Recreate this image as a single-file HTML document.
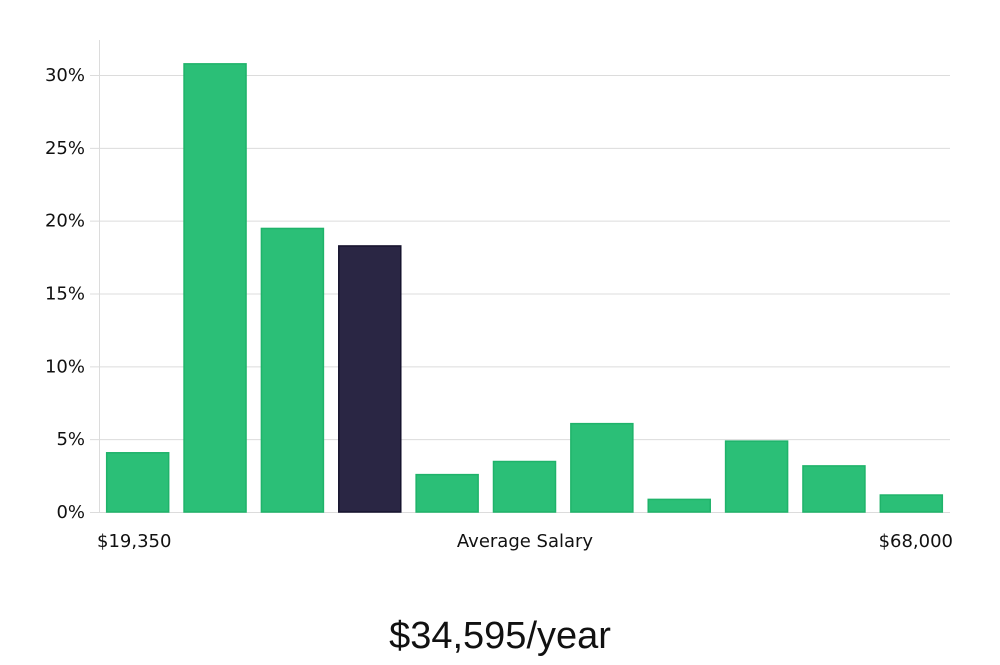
<!DOCTYPE html>
<html><head><meta charset="utf-8"><style>
body{margin:0;background:#fff;width:1000px;height:660px;overflow:hidden}
text{font-family:"DejaVu Sans","Liberation Sans",sans-serif}
</style></head><body>
<svg width="1000" height="660">
<g id="grid"></g><g id="bars"></g><g id="yt"></g>
<line x1="99.5" y1="40" x2="99.5" y2="512" stroke="#dcdcdc"/>
<text x="97" y="547" font-size="18" fill="#111">$19,350</text>
<text x="525" y="547" font-size="18" fill="#111" text-anchor="middle">Average Salary</text>
<text x="953" y="547" font-size="18" fill="#111" text-anchor="end">$68,000</text>
<text x="500" y="648" font-size="38" fill="#111" text-anchor="middle" style="font-family:'Liberation Sans',sans-serif;font-weight:300">$34,595/year</text>
</svg>
<script>
const values=[4.1,30.8,19.5,18.3,2.6,3.5,6.1,0.9,4.9,3.2,1.2];
const highlight=[false,false,false,true,false,false,false,false,false,false,false];
const ticks=[0,5,10,15,20,25,30];
const tickLabels=["0%","5%","10%","15%","20%","25%","30%"];
const NS="http://www.w3.org/2000/svg";
const y=v=>512-v*(437/30);
const x0=99,step=(950-99)/values.length,bw=63;
const mk=(t,a,p)=>{const e=document.createElementNS(NS,t);for(const k in a)e.setAttribute(k,a[k]);document.getElementById(p).appendChild(e);return e;};
ticks.forEach((t,i)=>{
 const g=mk('line',{x1:90,x2:950,y1:y(t)+0.5,y2:y(t)+0.5,stroke:'#dcdcdc'},'grid');
 
 
 const l=mk('text',{x:85,y:y(t)+6,'font-size':18,fill:'#111','text-anchor':'end'},'yt');
 l.textContent=tickLabels[i];
 
 
});
values.forEach((v,i)=>{
 const hl=highlight[i];
 const r=mk('rect',{x:x0+i*step+(step-bw)/2+0.5,y:y(v)+0.5,width:bw-1,height:512-y(v)-0.5,fill:hl?'#2a2644':'#2bbf77',stroke:hl?'#16132e':'#1fb36a','stroke-width':1.5},'bars');
 
 
});
</script>
</body></html>
